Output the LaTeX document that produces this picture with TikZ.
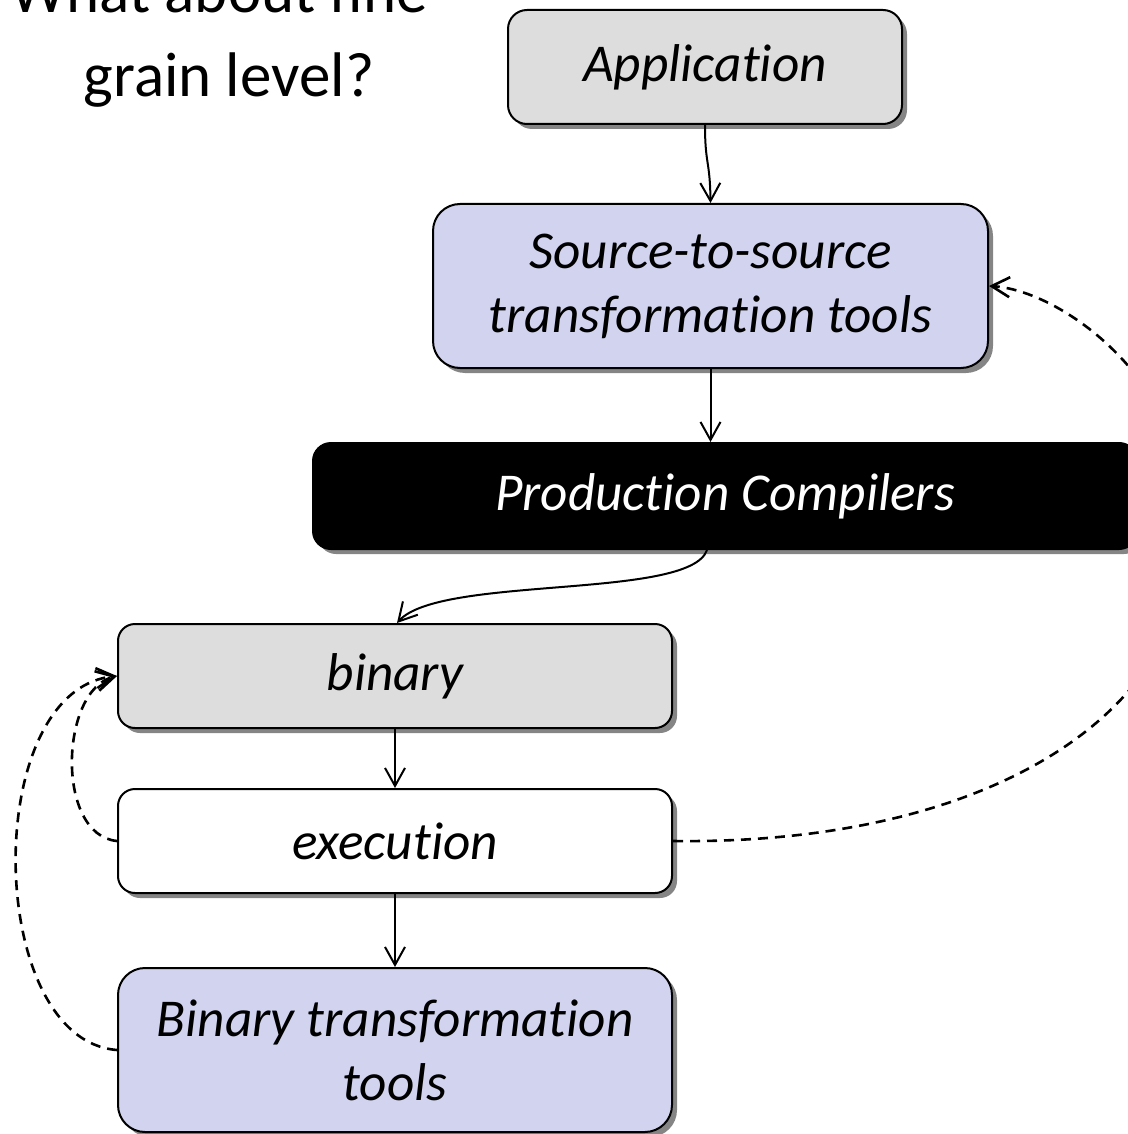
\documentclass[tikz,border=0pt]{standalone}
\usepackage{fontspec}
\setmainfont{Carlito}[Ligatures=NoCommon]
\usetikzlibrary{arrows.meta,shadows}
\definecolor{boxgray}{HTML}{DDDDDD}
\definecolor{boxlav}{HTML}{D1D3EF}
\definecolor{shadowgray}{HTML}{858585}

\begin{document}
\begin{tikzpicture}[x=0.5pt,y=-0.5pt,
  box/.style={draw=black, line width=1pt, inner sep=0pt, align=center,
    font=\fontsize{26.6}{32}\selectfont\itshape,
    drop shadow={shadow xshift=2.5pt, shadow yshift=-2.5pt, fill=shadowgray, opacity=1}},
  arr/.style={-{Straight Barb[length=9pt,width=10pt]}, line width=1pt},
  dsh/.style={arr, line width=1.3pt, dash pattern=on 5pt off 3.5pt},
  title/.style={font=\fontsize{31.5}{42}\selectfont, inner sep=0pt, align=center}]

\useasboundingbox (0,0) rectangle (1128,1134);
\clip (0,0) rectangle (1128,1134);

% heading
\node[title, anchor=base] (ttl) at (229,97) {What about fine-\\grain level?};

% boxes
\node[box, fill=boxgray, minimum width=197pt, minimum height=57pt, rounded corners=9.5pt]
  (app) at (705,67) {Application};
\node[box, fill=boxlav, minimum width=277.5pt, minimum height=82pt, rounded corners=13.5pt]
  (src) at (710.5,286) {Source-to-source\\transformation tools};
\node[box, fill=black, text=white, minimum width=412pt, minimum height=53pt, rounded corners=9pt]
  (prod) at (725,496) {Production Compilers};
\node[box, fill=boxgray, minimum width=277pt, minimum height=52pt, rounded corners=8.5pt]
  (bin) at (395,676) {binary};
\node[box, fill=white, minimum width=277pt, minimum height=52pt, rounded corners=8.5pt]
  (exe) at (395,841) {execution};
\node[box, fill=boxlav, minimum width=277pt, minimum height=82pt, rounded corners=13.5pt]
  (btools) at (395,1050) {Binary transformation\\tools};

% solid flow
\draw[arr] (app.south) .. controls (705,165) and (710,160) .. (src.north);
\draw[arr] (src.south) -- (prod.north -| src.south);
\draw[arr] ([xshift=-9pt]prod.south) .. controls (690,600) and (440,575) .. ([xshift=1pt]bin.north);
\draw[arr] (bin.south) -- (exe.north);
\draw[arr] (exe.south) -- (btools.north);

% feedback loops
\coordinate (farright) at (1190,530);
\draw[dsh] (exe.east) .. controls (980,845) and (1190,720) .. (farright)
  .. controls (1190,380) and (1060,290) .. (src.east);
\draw[dsh] (exe.west) .. controls (55,835) and (60,690) .. (bin.west);
\draw[dsh] (btools.west) .. controls (-15,1040) and (-20,690) .. (bin.west);

\end{tikzpicture}
\end{document}
